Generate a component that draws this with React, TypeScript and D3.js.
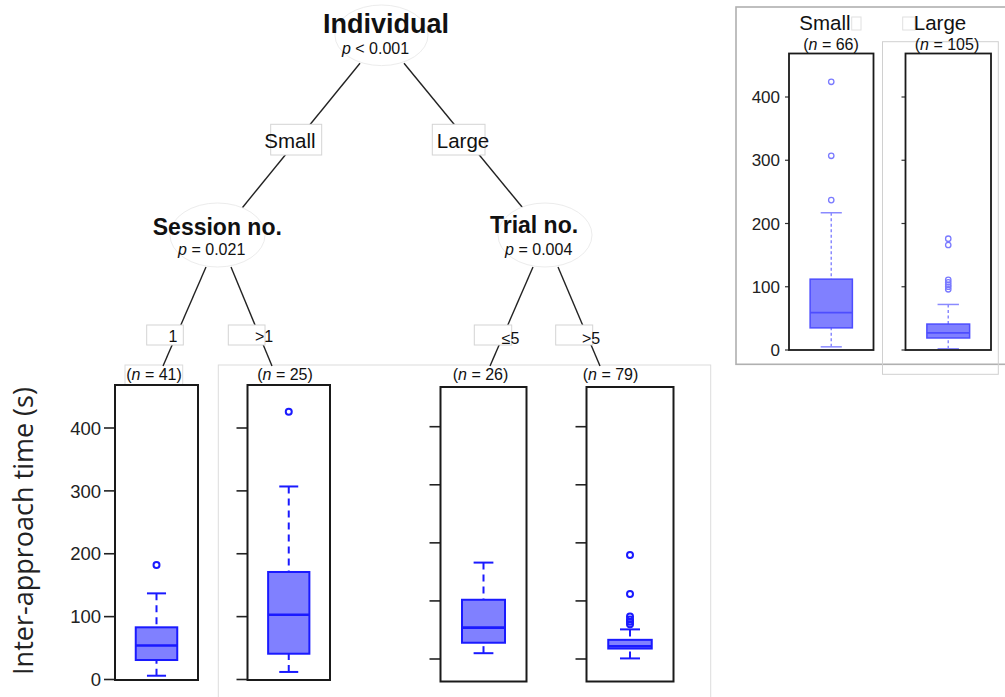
import React from "react";
import * as d3 from "d3";

// ---- Data ----------------------------------------------------------------
// Conditional inference tree of inter-approach times (s)
const splitVariables = ["Individual", "Session no.", "Trial no."];
const splitPValues = ["< 0.001", "= 0.021", "= 0.004"];
const edgeLabels = ["Small", "Large", "1", ">1", "\u22645", ">5"];

// Terminal nodes: n and five-number summaries [lowWhisker, q1, median, q3, highWhisker]
const terminalN = [41, 25, 26, 79];
const terminalStats = [
  [6, 31, 54, 83, 137],
  [12, 41, 103, 171, 307],
  [10, 28, 54, 102, 166],
  [1, 18, 22, 33, 51],
];
const terminalOutliers = [
  [182],
  [426],
  [],
  [60, 64, 68, 73, 112, 179],
];

// Overall split by individual
const insetGroups = ["Small", "Large"];
const insetN = [66, 105];
const insetStats = [
  [5, 35, 59, 112, 217],
  [2, 19, 27, 41, 72],
];
const insetOutliers = [
  [237, 307, 424],
  [96, 100, 103, 107, 111, 166, 176],
];

const yTicks = [0, 100, 200, 300, 400];
const yLabel = "Inter-approach time (s)";

// ---- Layout --------------------------------------------------------------
const W = 1005;
const H = 697;
const SANS = "'Liberation Sans', Arial, Helvetica, sans-serif";

const yA = d3.scaleLinear().domain([0, 400]).range([679.5, 428]);
const yB = d3.scaleLinear().domain([0, 400]).range([659, 426.7]);
const yInset = d3.scaleLinear().domain([0, 400]).range([350, 97]);

const lowerPanels = [
  { x0: 115, x1: 198, y0: 385, y1: 680, y: yA, labelX: 154, labels: true },
  { x0: 247.5, x1: 330, y0: 385, y1: 680, y: yA, labelX: 285, labels: false },
  { x0: 440.5, x1: 526.5, y0: 387, y1: 681.5, y: yB, labelX: 480.5, labels: false },
  { x0: 586.5, x1: 673.5, y0: 387, y1: 681.5, y: yB, labelX: 610.5, labels: false },
];

const insetPanels = [
  { x0: 789, x1: 873.5, y0: 53.5, y1: 350, y: yInset, labelX: 831, titleX: 825, labels: true },
  { x0: 905.5, x1: 991, y0: 53.5, y1: 350, y: yInset, labelX: 947, titleX: 940, labels: false },
];

// Inner tree nodes: ellipse and text anchors
const innerNodes = [
  { cx: 381.5, cy: 35.3, rx: 46.5, ry: 30.3, nameX: 386, nameY: 33.3, nameSize: 27, pX: 375.5, pY: 54.3 },
  { cx: 217.5, cy: 235, rx: 47.5, ry: 32, nameX: 217.3, nameY: 235, nameSize: 23, pX: 211.7, pY: 255 },
  { cx: 545, cy: 235, rx: 47, ry: 32, nameX: 534, nameY: 233, nameSize: 23, pX: 538.7, pY: 255 },
];

// Tree edges (from / to endpoints)
const treeEdges = [
  [360, 63.3, 241.7, 208.5],
  [404, 63.3, 523.3, 208.5],
  [206, 267, 163, 366],
  [231, 267, 272, 366],
  [533, 267, 490, 366],
  [558, 267, 600, 366],
];

// Edge label boxes [x0, y0, x1, y1] and text anchor
const edgeLabelLayout = [
  { box: [270.7, 124.3, 321.7, 155], tx: 290, ty: 148, size: 20.5 },
  { box: [432.3, 124.3, 485, 155], tx: 463, ty: 147.5, size: 20.5 },
  { box: [146.7, 325, 183.3, 345], tx: 173, ty: 342, size: 16 },
  { box: [228.3, 325, 265, 345], tx: 264, ty: 342, size: 16 },
  { box: [474.3, 325, 511.7, 345], tx: 510.5, ty: 343.5, size: 16 },
  { box: [555.7, 325, 592.7, 345], tx: 591, ty: 343.5, size: 16 },
];

type BoxStyle = {
  stroke: string;
  fill: string;
  boxWidth: number;
  medianWidth: number;
  whiskerColor: string;
  whiskerWidth: number;
  dash: string;
  capFrac: number;
  outlierR: number;
  outlierStroke: string;
  outlierWidth: number;
};

const lowerStyle: BoxStyle = {
  stroke: "#1a1aff",
  fill: "#8080ff",
  boxWidth: 2,
  medianWidth: 2.6,
  whiskerColor: "#1a1aff",
  whiskerWidth: 2,
  dash: "7,5",
  capFrac: 0.23,
  outlierR: 3,
  outlierStroke: "#1a1aff",
  outlierWidth: 2,
};

const insetStyle: BoxStyle = {
  stroke: "#4d4dff",
  fill: "#8080ff",
  boxWidth: 1.5,
  medianWidth: 1.8,
  whiskerColor: "#8a8aff",
  whiskerWidth: 1.5,
  dash: "3,2.5",
  capFrac: 0.25,
  outlierR: 2.7,
  outlierStroke: "#7a7aff",
  outlierWidth: 1.3,
};

function BoxPlot({
  x0,
  x1,
  y,
  stats,
  outliers,
  style,
}: {
  x0: number;
  x1: number;
  y: d3.ScaleLinear<number, number>;
  stats: number[];
  outliers: number[];
  style: BoxStyle;
}) {
  const [lo, q1, med, q3, hi] = stats;
  const cx = (x0 + x1) / 2;
  const bw = (x1 - x0) * 0.5;
  const cw = (x1 - x0) * style.capFrac;
  return (
    <g>
      <line x1={cx} x2={cx} y1={y(hi)} y2={y(q3)} stroke={style.whiskerColor}
        strokeWidth={style.whiskerWidth} strokeDasharray={style.dash} />
      <line x1={cx} x2={cx} y1={y(lo)} y2={y(q1)} stroke={style.whiskerColor}
        strokeWidth={style.whiskerWidth} strokeDasharray={style.dash} />
      <line x1={cx - cw / 2} x2={cx + cw / 2} y1={y(hi)} y2={y(hi)}
        stroke={style.whiskerColor} strokeWidth={style.whiskerWidth} />
      <line x1={cx - cw / 2} x2={cx + cw / 2} y1={y(lo)} y2={y(lo)}
        stroke={style.whiskerColor} strokeWidth={style.whiskerWidth} />
      <rect x={cx - bw / 2} y={y(q3)} width={bw} height={y(q1) - y(q3)}
        fill={style.fill} stroke={style.stroke} strokeWidth={style.boxWidth} />
      <line x1={cx - bw / 2} x2={cx + bw / 2} y1={y(med)} y2={y(med)}
        stroke={style.stroke} strokeWidth={style.medianWidth} />
      {outliers.map((v, i) => (
        <circle key={i} cx={cx} cy={y(v)} r={style.outlierR} fill="none"
          stroke={style.outlierStroke} strokeWidth={style.outlierWidth} />
      ))}
    </g>
  );
}

function NLabel({ x, y, n, size }: { x: number; y: number; n: number; size: number }) {
  return (
    <text x={x} y={y} textAnchor="middle" fontFamily={SANS} fontSize={size} fill="#111">
      (<tspan fontStyle="italic">n</tspan> = {n})
    </text>
  );
}

export default function App() {
  return (
    <svg width={W} height={H} viewBox={`0 0 ${W} ${H}`}
      style={{ position: "absolute", left: 0, top: 0, display: "block", background: "#fff" }}>
      {/* faint frames around composed panels */}
      <rect x={218.3} y={365} width={492.4} height={340} fill="none" stroke="#dcdcdc" strokeWidth={1} />
      <rect x={125} y={365} width={57.7} height={20} fill="none" stroke="#dcdcdc" strokeWidth={1} />

      {/* tree edges */}
      {treeEdges.map((e, i) => (
        <line key={i} x1={e[0]} y1={e[1]} x2={e[2]} y2={e[3]} stroke="#222" strokeWidth={1.4} />
      ))}

      {/* inner nodes */}
      {innerNodes.map((nd, i) => (
        <g key={i}>
          <ellipse cx={nd.cx} cy={nd.cy} rx={nd.rx} ry={nd.ry} fill="#fff" stroke="#ececec" strokeWidth={1} />
          <text x={nd.nameX} y={nd.nameY} textAnchor="middle" fontFamily={SANS}
            fontWeight="bold" fontSize={nd.nameSize} fill="#111">
            {splitVariables[i]}
          </text>
          <text x={nd.pX} y={nd.pY} textAnchor="middle" fontFamily={SANS} fontSize={16} fill="#111">
            <tspan fontStyle="italic">p</tspan> {splitPValues[i]}
          </text>
        </g>
      ))}

      {/* edge labels */}
      {edgeLabelLayout.map((l, i) => (
        <g key={i}>
          <rect x={l.box[0]} y={l.box[1]} width={l.box[2] - l.box[0]} height={l.box[3] - l.box[1]}
            fill="#fff" stroke="#d4d4d4" strokeWidth={1} />
          <text x={l.tx} y={l.ty} textAnchor="middle" fontFamily={SANS} fontSize={l.size} fill="#111">
            {edgeLabels[i]}
          </text>
        </g>
      ))}

      {/* terminal node panels */}
      {lowerPanels.map((p, i) => (
        <g key={i}>
          {yTicks.map((t) => (
            <line key={t} x1={p.x0 - 11} x2={p.x0} y1={p.y(t)} y2={p.y(t)} stroke="#222" strokeWidth={1.6} />
          ))}
          {p.labels &&
            yTicks.map((t) => (
              <text key={t} x={p.x0 - 14} y={p.y(t)} dy="0.36em" textAnchor="end"
                fontFamily={SANS} fontSize={18.5} fill="#222">
                {t}
              </text>
            ))}
          <BoxPlot x0={p.x0} x1={p.x1} y={p.y} stats={terminalStats[i]}
            outliers={terminalOutliers[i]} style={lowerStyle} />
          <rect x={p.x0} y={p.y0} width={p.x1 - p.x0} height={p.y1 - p.y0}
            fill="none" stroke="#1a1a1a" strokeWidth={2} />
          <NLabel x={p.labelX} y={380} n={terminalN[i]} size={16} />
        </g>
      ))}

      {/* y-axis title */}
      <text transform="translate(33,531) rotate(-90)" textAnchor="middle"
        fontFamily="'Open Sans', 'Noto Sans', sans-serif" fontSize={27} fill="#222">
        {yLabel}
      </text>

      {/* overall split panel */}
      <g>
        <rect x={736} y={7} width={W} height={357.3} fill="none" stroke="#b0b0b0" strokeWidth={1.6} />
        <rect x={882.5} y={41.7} width={115.8} height={332.6} fill="none" stroke="#d0d0d0" strokeWidth={1} />
        <rect x={851.7} y={17} width={9.3} height={13} fill="#fff" stroke="#e0e0e0" strokeWidth={1} />
        <rect x={902.7} y={17} width={12.3} height={13} fill="#fff" stroke="#e0e0e0" strokeWidth={1} />
        {insetPanels.map((p, i) => (
          <g key={i}>
            {yTicks.map((t) => (
              <line key={t} x1={p.x0 - 4} x2={p.x0} y1={p.y(t)} y2={p.y(t)} stroke="#333" strokeWidth={1.2} />
            ))}
            {p.labels &&
              yTicks.map((t) => (
                <text key={t} x={p.x0 - 9} y={p.y(t)} dy="0.36em" textAnchor="end"
                  fontFamily={SANS} fontSize={17} fill="#222">
                  {t}
                </text>
              ))}
            <BoxPlot x0={p.x0} x1={p.x1} y={p.y} stats={insetStats[i]}
              outliers={insetOutliers[i]} style={insetStyle} />
            <rect x={p.x0} y={p.y0} width={p.x1 - p.x0} height={p.y1 - p.y0}
              fill="none" stroke="#1a1a1a" strokeWidth={1.8} />
            <text x={p.titleX} y={29.5} textAnchor="middle" fontFamily={SANS} fontSize={20.5} fill="#111">
              {insetGroups[i]}
            </text>
            <NLabel x={p.labelX} y={50} n={insetN[i]} size={16} />
          </g>
        ))}
      </g>
    </svg>
  );
}
